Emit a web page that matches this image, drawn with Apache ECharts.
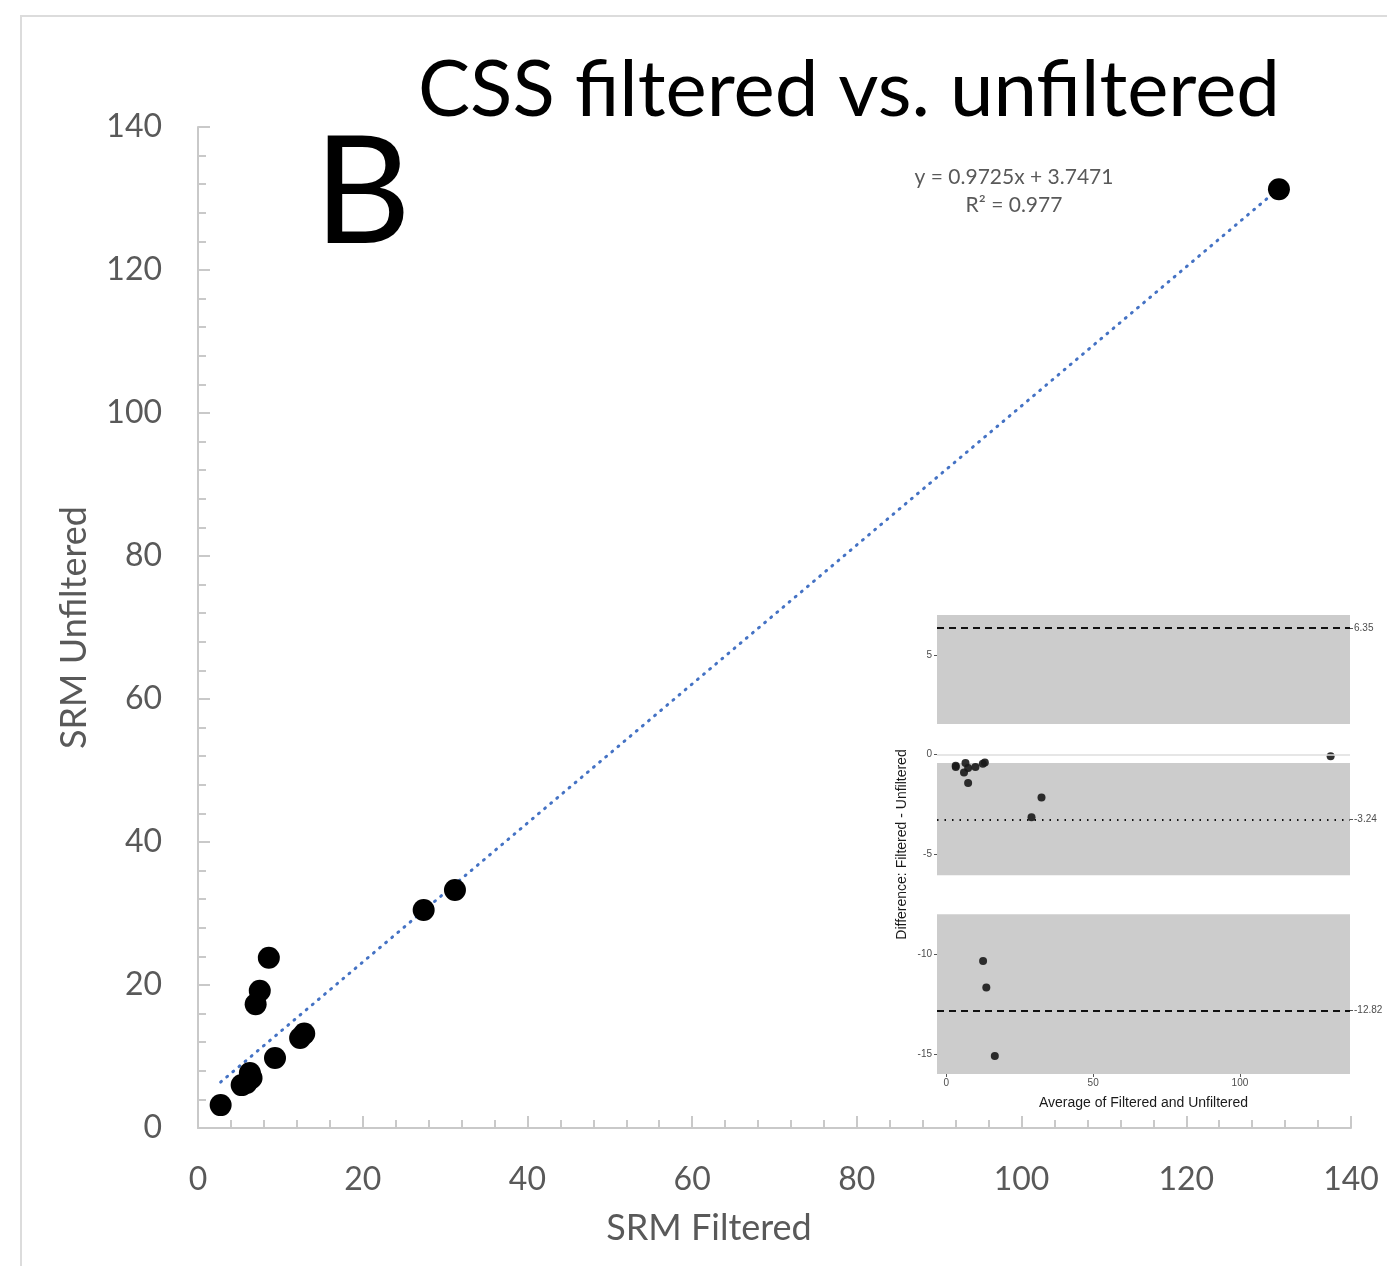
<!DOCTYPE html>
<html>
<head>
<meta charset="utf-8">
<script src="https://cdn.jsdelivr.net/npm/echarts@6/dist/echarts.min.js"></script>
<style>
  html, body { margin: 0; padding: 0; background: #fff; }
  #chart { width: 1387px; height: 1266px; }
</style>
</head>
<body>
<div id="chart"></div>
<script>
// main scatter: SRM filtered vs unfiltered
const filtered   = [131.25, 31.2, 27.4, 8.6, 7.5, 7.0, 12.4, 12.9, 9.35, 5.3, 6.3, 6.5, 5.9, 2.75]
const unfiltered = [131.3, 33.3, 30.5, 23.8, 19.2, 17.3, 12.6, 13.2, 9.8, 6.0, 7.7, 7.0, 6.3, 3.2]
// linear fit shown on the chart
const slope = 0.9725
const intercept = 3.7471
const fitRange = [2.75, 131.25]

// Bland-Altman inset
const baAvg  = [130.9, 32.4, 29.0, 12.5, 13.6, 16.5, 3.17, 3.2, 6.5, 6.0, 7.4, 7.4, 9.9, 13.1, 12.4]
const baDiff = [-0.08, -2.14, -3.13, -10.34, -11.67, -15.1, -0.55, -0.62, -0.42, -0.89, -0.67, -1.42, -0.62, -0.39, -0.45]
const limits = [6.35, -3.24, -12.82]   // upper LoA, mean, lower LoA
const ciBands = [[1.54, 7.0], [-6.04, -0.42], [-16.0, -7.99]]
const insetXTicks = [0, 50, 100]
const insetYTicks = [5, 0, -5, -10, -15]

const chart = echarts.init(document.getElementById('chart'))

const grey = '#595959'
const axisGrey = '#c9c9c9'
const mainFont = 'Lato'
const insetFont = 'Liberation Sans'

const mainPoints = filtered.map((v, i) => [v, unfiltered[i]])
const fitLine = fitRange.map(x => [x, slope * x + intercept])
const baPoints = baAvg.map((v, i) => [v, baDiff[i]])

const mainAxisCommon = {
  min: 0,
  max: 140,
  interval: 20,
  axisLine: { lineStyle: { color: axisGrey, width: 2 } },
  axisTick: { inside: true, length: 12, lineStyle: { color: axisGrey, width: 2 } },
  minorTick: { show: true, splitNumber: 5, length: 8, lineStyle: { color: axisGrey, width: 2 } },
  splitLine: { show: false },
  axisLabel: { fontSize: 32, color: grey, margin: 36, fontFamily: mainFont }
}

const option = {
  animation: false,
  backgroundColor: '#fff',
  graphic: [
    { type: 'line', shape: { x1: 20, y1: 16, x2: 1387, y2: 16 }, style: { stroke: '#dcdcdc', lineWidth: 2 } },
    { type: 'line', shape: { x1: 21, y1: 16, x2: 21, y2: 1266 }, style: { stroke: '#dcdcdc', lineWidth: 2 } },
    {
      type: 'text', left: 418, top: 52,
      style: { text: 'CSS filtered vs. unfiltered', fontSize: 78, fontFamily: mainFont, fill: '#000' }
    },
    {
      type: 'text', left: 314, top: 120,
      style: { text: 'B', fontSize: 150, fontFamily: mainFont, fill: '#000' }
    },
    {
      type: 'text', x: 1014, y: 177,
      style: { text: 'y = 0.9725x + 3.7471', fontSize: 21, fontFamily: mainFont, fill: grey, align: 'center', verticalAlign: 'middle' }
    },
    {
      type: 'text', x: 1014, y: 205,
      style: { text: 'R² = 0.977', fontSize: 21, fontFamily: mainFont, fill: grey, align: 'center', verticalAlign: 'middle' }
    },
    {
      type: 'text', x: 709, y: 1228,
      style: { text: 'SRM Filtered', fontSize: 36, fontFamily: mainFont, fill: grey, align: 'center', verticalAlign: 'middle' }
    }
  ],
  grid: [
    { left: 198, right: 36, top: 127, bottom: 138 },
    { left: 937, right: 37, top: 615, bottom: 192 }
  ],
  xAxis: [
    Object.assign({}, mainAxisCommon, { gridIndex: 0 }),
    {
      gridIndex: 1,
      type: 'value',
      min: -3.2,
      max: 137.5,
      axisLine: { show: false, onZero: false },
      axisTick: { show: true, length: 3, lineStyle: { color: '#555' }, customValues: insetXTicks },
      axisLabel: { fontSize: 10, color: '#4d4d4d', margin: 4, fontFamily: insetFont, customValues: insetXTicks },
      splitLine: { show: false },
      name: 'Average of Filtered and Unfiltered',
      nameLocation: 'middle',
      nameGap: 22,
      nameTextStyle: { fontSize: 14, color: '#1a1a1a', fontFamily: insetFont }
    }
  ],
  yAxis: [
    Object.assign({}, mainAxisCommon, {
      gridIndex: 0,
      name: 'SRM Unfiltered',
      nameLocation: 'middle',
      nameGap: 106,
      nameTextStyle: { fontSize: 36, color: grey, fontFamily: mainFont }
    }),
    {
      gridIndex: 1,
      type: 'value',
      min: -16.0,
      max: 7.0,
      axisLine: { show: false, onZero: false },
      axisTick: { show: true, length: 3, lineStyle: { color: '#555' }, customValues: insetYTicks },
      axisLabel: { fontSize: 10, color: '#4d4d4d', margin: 5, fontFamily: insetFont, customValues: insetYTicks },
      splitLine: { show: false },
      name: 'Difference: Filtered - Unfiltered',
      nameLocation: 'middle',
      nameGap: 28,
      nameTextStyle: { fontSize: 14, color: '#1a1a1a', fontFamily: insetFont }
    },
    {
      gridIndex: 1,
      type: 'value',
      position: 'right',
      min: -16.0,
      max: 7.0,
      axisLine: { show: false, onZero: false },
      axisTick: { show: true, length: 3, lineStyle: { color: '#555' }, customValues: limits },
      axisLabel: { fontSize: 10, color: '#4d4d4d', margin: 4, fontFamily: insetFont, customValues: limits, formatter: v => v.toFixed(2) },
      splitLine: { show: false }
    }
  ],
  series: [
    {
      type: 'line',
      xAxisIndex: 0, yAxisIndex: 0,
      data: fitLine,
      symbol: 'none',
      lineStyle: { color: '#4472C4', width: 3, type: [1, 7], cap: 'round' },
      z: 2
    },
    {
      type: 'scatter',
      xAxisIndex: 0, yAxisIndex: 0,
      data: mainPoints,
      symbolSize: 22,
      itemStyle: { color: '#000', opacity: 1 },
      z: 3
    },
    {
      type: 'scatter',
      xAxisIndex: 1, yAxisIndex: 1,
      data: baPoints,
      symbolSize: 8,
      itemStyle: { color: '#1a1a1a', opacity: 0.9 },
      markArea: {
        silent: true,
        itemStyle: { color: '#cccccc' },
        data: ciBands.map(b => [{ yAxis: b[0] }, { yAxis: b[1] }])
      },
      markLine: {
        silent: true,
        symbol: 'none',
        label: { show: false },
        data: [
          { yAxis: 0, lineStyle: { color: '#dedede', width: 1.5, type: 'solid' } },
          { yAxis: limits[0], lineStyle: { color: '#111', width: 2, type: [7, 5] } },
          { yAxis: limits[1], lineStyle: { color: '#111', width: 2, type: [1.5, 6] } },
          { yAxis: limits[2], lineStyle: { color: '#111', width: 2, type: [7, 5] } }
        ]
      },
      z: 3
    }
  ]
}

chart.setOption(option)
</script>
</body>
</html>
